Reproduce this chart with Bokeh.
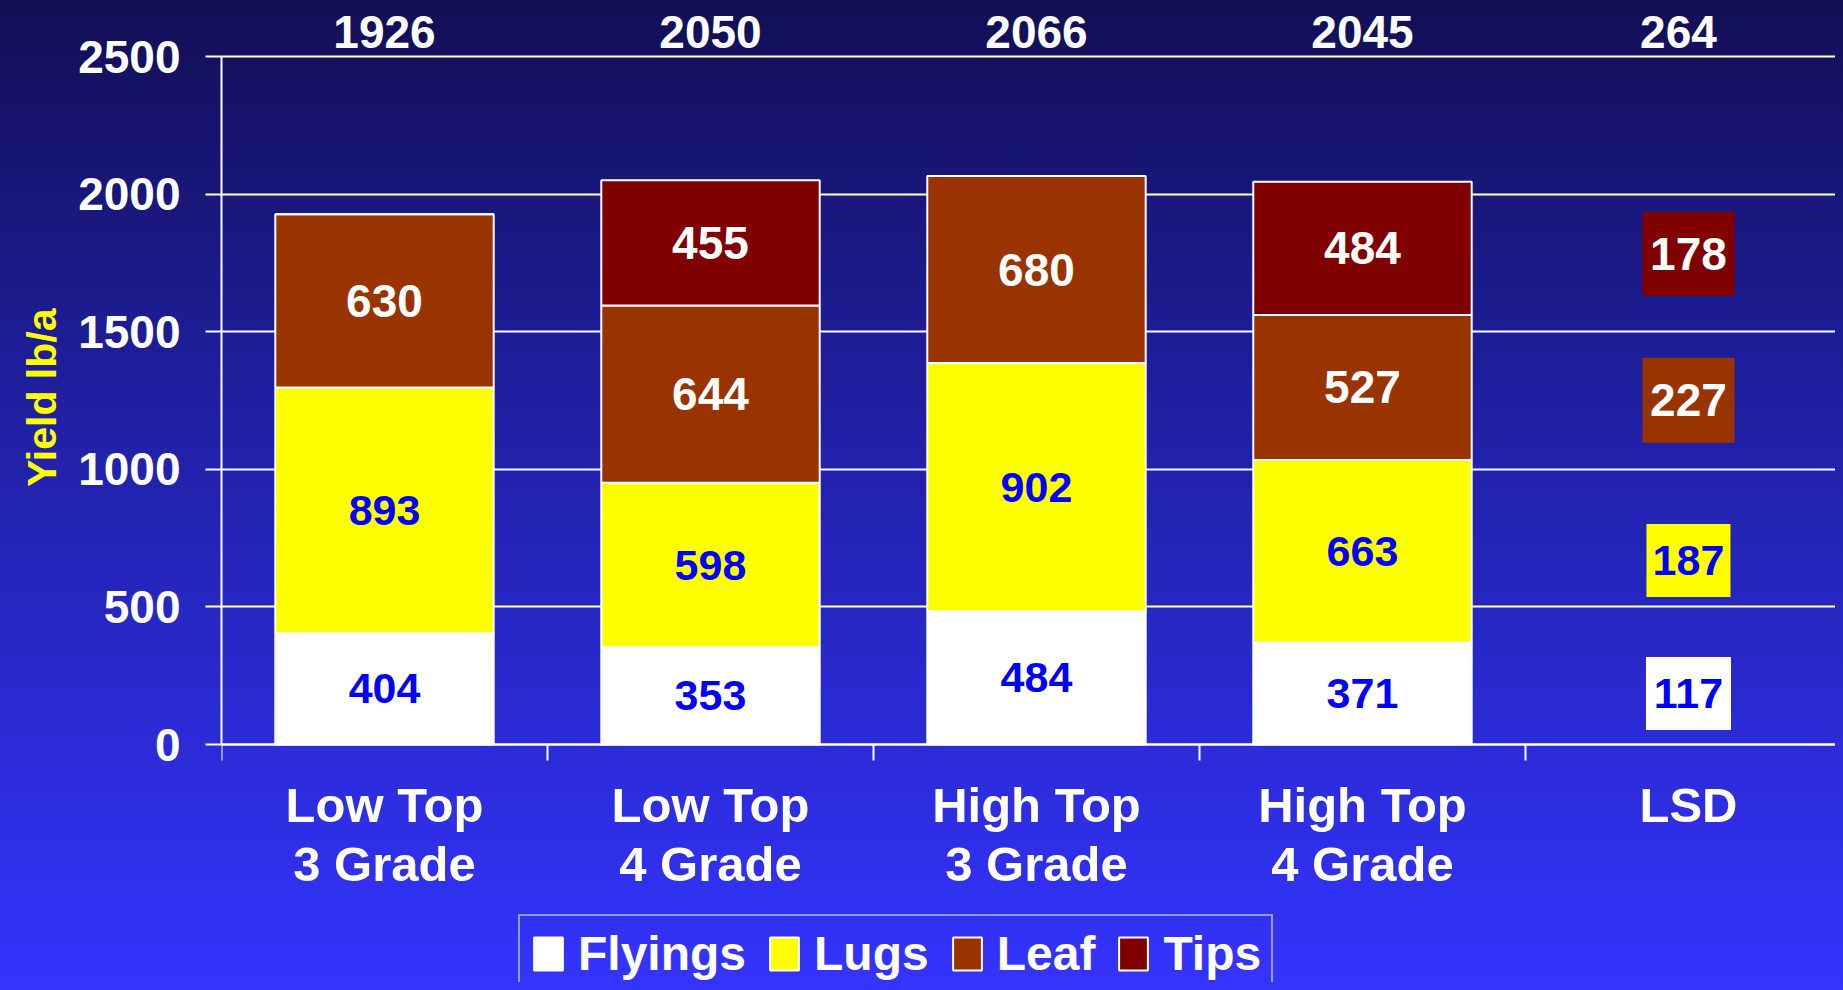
from bokeh.plotting import figure
from bokeh.models import (ColumnDataSource, FixedTicker, Legend, LegendItem, Range1d, Title)
from bokeh.core.properties import value
from bokeh.embed import file_html
from bokeh.resources import INLINE
from jinja2 import Template

# ---------------- data ----------------
categories = ["Low Top\n3 Grade", "Low Top\n4 Grade", "High Top\n3 Grade", "High Top\n4 Grade"]
lsd_category = "LSD"
series = ["Flyings", "Lugs", "Leaf", "Tips"]
flyings = [404, 353, 484, 371]
lugs = [893, 598, 902, 663]
leaf = [630, 644, 680, 527]
tips = [0, 455, 0, 484]
totals = [1926, 2050, 2066, 2045]
lsd_values = [117, 187, 227, 178]   # Flyings, Lugs, Leaf, Tips
lsd_total = 264
y_ticks = [0, 500, 1000, 1500, 2000, 2500]
y_title = "Yield lb/a"

# ---------------- styles / layout ----------------
FONT = "Liberation Sans"
fill_colors = ["#FFFFFF", "#FFFF00", "#993300", "#800000"]
text_colors = ["#0000FF", "#0000FF", "#FFFFFF", "#FFFFFF"]
text_sizes = ["43px", "43px", "46px", "46px"]
lsd_label_y = [185, 669, 1251, 1782]          # where the LSD boxes sit
lsd_box_w = [85, 84, 92, 92]
lsd_box_h = [73, 73, 85, 84]

n = len(categories)
xc = [i + 0.5 for i in range(n)]
x_lsd = n + 0.5
y_max = y_ticks[-1]

# frame fills the figure vertically; axes sit at fixed positions inside it
px_per_unit = 688 / y_max
y_lo = -238 / px_per_unit
y_hi = y_max + 48 / px_per_unit

p = figure(width=1827, height=974, x_range=Range1d(0, 4.951), y_range=Range1d(y_lo, y_hi),
           output_backend="svg", toolbar_location=None,
           min_border_left=213, min_border_top=0, min_border_bottom=0, min_border_right=0,
           background_fill_alpha=0, border_fill_alpha=0, outline_line_color=None)

# stacked bars
src = ColumnDataSource(dict(x=xc, Flyings=flyings, Lugs=lugs, Leaf=leaf, Tips=tips))
renderers = p.vbar_stack(series, x="x", width=0.67, fill_color=fill_colors,
                         line_color="white", line_width=2, source=src)

# segment labels
data = [flyings, lugs, leaf, tips]
cum = [0] * n
for k, vals in enumerate(data):
    xs, ys, ts = [], [], []
    for i, v in enumerate(vals):
        if v > 0:
            xs.append(xc[i]); ys.append(cum[i] + v / 2); ts.append(str(v))
        cum[i] += v
    p.text(x=xs, y=ys, text=ts, text_color=text_colors[k], text_font=value(FONT),
           text_font_style="bold", text_font_size=text_sizes[k],
           text_align="center", text_baseline="middle")

# LSD boxes
lsd_src = ColumnDataSource(dict(x=[x_lsd] * 4, y=lsd_label_y, w=lsd_box_w, h=lsd_box_h,
                                c=fill_colors, tc=text_colors, fs=text_sizes,
                                t=[str(v) for v in lsd_values]))
p.rect(x="x", y="y", width="w", height="h", width_units="screen", height_units="screen",
       fill_color="c", line_color=None, source=lsd_src)
p.text(x="x", y="y", text="t", text_color="tc", text_font=value(FONT), text_font_style="bold",
       text_font_size="fs", text_align="center", text_baseline="middle", source=lsd_src)

# totals above the plot area
tot_src = ColumnDataSource(dict(x=xc + [x_lsd], y=[y_max] * (n + 1),
                                dx=[0] * n + [-10],
                                t=[str(t) for t in totals] + [str(lsd_total)]))
p.text(x="x", y="y", text="t", source=tot_src, y_offset=-25, x_offset="dx",
       text_align="center", text_baseline="middle", text_color="white",
       text_font=value(FONT), text_font_style="bold", text_font_size="46px")

# y axis
p.yaxis.bounds = (0, y_max)
p.yaxis.ticker = FixedTicker(ticks=y_ticks)
p.yaxis.major_tick_out = 16
p.yaxis.major_tick_in = 0
p.yaxis.minor_tick_line_color = None
p.yaxis.axis_line_color = "white"
p.yaxis.axis_line_width = 2
p.yaxis.major_tick_line_color = "white"
p.yaxis.major_tick_line_width = 2
p.yaxis.major_label_text_color = "white"
p.yaxis.major_label_text_font = FONT
p.yaxis.major_label_text_font_style = "bold"
p.yaxis.major_label_text_font_size = "46px"
p.yaxis.major_label_standoff = 25

# y title placed in the left panel, aligned towards the top
p.add_layout(Title(text=y_title, align="right", offset=300, vertical_align="top",
                   text_color="#FFFF00", text_font=FONT, text_font_style="bold",
                   text_font_size="41px", standoff=18), "left")

# x axis at y = 0: boundary ticks (minor) and category labels (major)
p.xaxis.fixed_location = 0
p.xaxis.ticker = FixedTicker(ticks=xc + [x_lsd], minor_ticks=list(range(n + 2)))
p.xaxis.major_label_overrides = {**{x: c for x, c in zip(xc, categories)}, x_lsd: lsd_category}
p.xaxis.major_tick_line_color = None
p.xaxis.major_tick_out = 0
p.xaxis.major_tick_in = 0
p.xaxis.minor_tick_out = 16
p.xaxis.minor_tick_in = 0
p.xaxis.minor_tick_line_color = "white"
p.xaxis.minor_tick_line_width = 2
p.xaxis.axis_line_color = "white"
p.xaxis.axis_line_width = 2
p.xaxis.major_label_text_color = "white"
p.xaxis.major_label_text_font = FONT
p.xaxis.major_label_text_font_style = "bold"
p.xaxis.major_label_text_font_size = "49px"
p.xaxis.major_label_text_line_height = 1.1
p.xaxis.major_label_standoff = 17

# grid
p.ygrid.ticker = FixedTicker(ticks=y_ticks)
p.ygrid.grid_line_color = "white"
p.ygrid.grid_line_width = 2
p.xgrid.grid_line_color = None

# legend
legend = Legend(items=[LegendItem(label=s, renderers=[r]) for s, r in zip(series, renderers)],
                orientation="horizontal", location=(297, -11),
                glyph_width=36, glyph_height=41, label_standoff=12, spacing=20,
                padding=10, margin=0, border_line_color="white", border_line_width=2,
                background_fill_alpha=0, label_text_color="white", label_text_font=FONT,
                label_text_font_style="bold", label_text_font_size="48px")
p.add_layout(legend, "center")

template = Template("""<!DOCTYPE html>
<html lang="en">
<head>
<meta charset="utf-8">
<title>Yield</title>
<style>
html { min-height: 100%; background: linear-gradient(to bottom, #120f55 0%, #1f1fa0 40%, #3434ff 100%); }
body { background: transparent; }
</style>
{{ bokeh_css }}
{{ bokeh_js }}
</head>
<body>
{{ plot_div }}
{{ plot_script }}
</body>
</html>
""")

open("out.html", "w").write(file_html(p, INLINE, template=template))
